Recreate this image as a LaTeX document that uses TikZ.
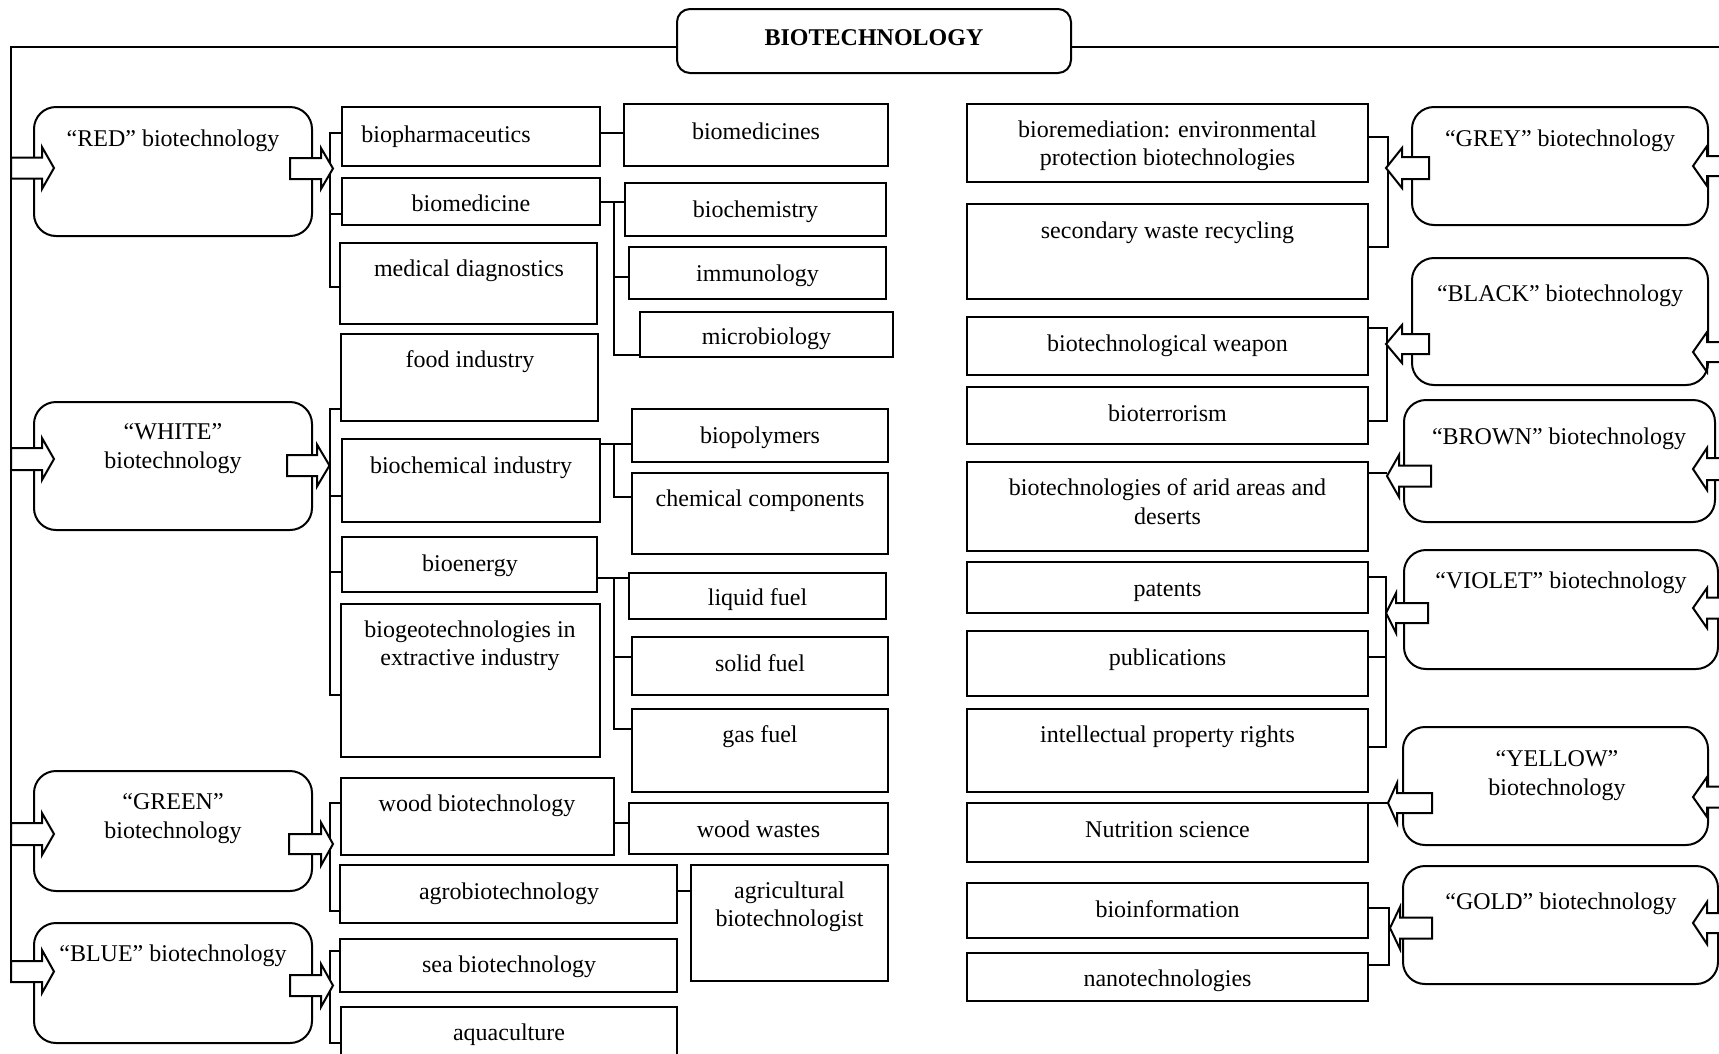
\documentclass[tikz,border=0pt]{standalone}
\usepackage{fontspec}
\setmainfont{Liberation Serif}
\newcommand\Bx[9][box]{%
  \node[#1,minimum width={(#5-#3)*1pt},minimum height={(#6-#4)*1pt}] (#2) at (#3,#4) {};
  \node[txt] (#2-t) at (#7,#8) {#9};}
\newcommand\ArR[6]{%
  \draw[blk] ({#1},{#4-#5}) -- ({#2},{#4-#5}) -- ({#2},{#4-#6}) -- ({#3},{#4}) --
    ({#2},{#4+#6}) -- ({#2},{#4+#5}) -- ({#1},{#4+#5}) -- cycle;}
\begin{document}
\begin{tikzpicture}[x=1pt,y=-1pt,
  box/.style={draw,line width=2pt,anchor=north west,inner sep=0pt,outer sep=0pt},
  rbox/.style={box,rounded corners=22pt},
  tbox/.style={box,rounded corners=13pt},
  txt/.style={font=\fontsize{24}{28.5}\selectfont,align=center,inner sep=0pt,yshift=-1.5pt},
  ln/.style={line width=2pt},
  blk/.style={draw,fill=white,line width=2pt}]
\useasboundingbox (0,0) rectangle (1719,1053);
\fill[white] (0,0) rectangle (1719,1053);
\clip (0,0) rectangle (1719,1053);

% top
\Bx[tbox]{bio}{677}{9}{1071}{73}{874}{38}{\strut\textbf{BIOTECHNOLOGY}}
% left rounded boxes
\Bx[rbox]{red}{34}{107}{312}{236}{173}{139}{\strut “RED” biotechnology}
\Bx[rbox]{white}{34}{402}{312}{530}{173}{447}{\strut “WHITE”\\\strut biotechnology}
\Bx[rbox]{green}{34}{771}{312}{891}{173}{817}{\strut “GREEN”\\\strut biotechnology}
\Bx[rbox]{blue}{34}{923}{312}{1043}{173}{954}{\strut “BLUE” biotechnology}
% right rounded boxes
\Bx[rbox]{grey}{1412}{107}{1708}{225}{1560}{139}{\strut “GREY” biotechnology}
\Bx[rbox]{black}{1412}{258}{1708}{385}{1560}{294}{\strut “BLACK” biotechnology}
\Bx[rbox]{brown}{1404}{400}{1715}{522}{1559}{437}{\strut “BROWN” biotechnology}
\Bx[rbox]{violet}{1404}{550}{1718}{669}{1561}{581}{\strut “VIOLET” biotechnology}
\Bx[rbox]{yellow}{1403}{727}{1708}{845}{1557}{774}{\strut “YELLOW”\\\strut biotechnology}
\Bx[rbox]{gold}{1403}{866}{1718}{984}{1561}{902}{\strut “GOLD” biotechnology}

% second column
\Bx{bioph}{342}{107}{600}{166}{446}{135}{\strut biopharmaceutics}
\Bx{biomed}{342}{178}{600}{225}{471}{204}{\strut biomedicine}
\Bx{meddiag}{340}{243}{597}{324}{469}{269}{\strut medical diagnostics}
\Bx{food}{341}{334}{598}{421}{470}{360}{\strut food industry}
\Bx{biochind}{342}{439}{600}{522}{471}{466}{\strut biochemical industry}
\Bx{bioen}{342}{537}{597}{592}{470}{564}{\strut bioenergy}
\Bx{biogeo}{341}{604}{600}{757}{470}{644.5}{\strut biogeotechnologies in\\\strut extractive industry}
\Bx{woodbio}{341}{778}{614}{855}{477}{804}{\strut wood biotechnology}
\Bx{agro}{340}{865}{677}{923}{509}{892}{\strut agrobiotechnology}
\Bx{sea}{340}{939}{677}{992}{509}{965}{\strut sea biotechnology}
\Bx{aqua}{341}{1007}{677}{1080}{509}{1033}{\strut aquaculture}

% third column
\Bx{biomeds}{624}{104}{888}{166}{756}{132}{\strut biomedicines}
\Bx{biochem}{625}{183}{886}{236}{755.5}{210}{\strut biochemistry}
\Bx{immun}{629}{247}{886}{299}{757.5}{274}{\strut immunology}
\Bx{micro}{640}{312}{893}{357}{766.5}{337}{\strut microbiology}
\Bx{biopoly}{632}{409}{888}{462}{760}{436}{\strut biopolymers}
\Bx{chemcomp}{632}{473}{888}{554}{760}{499}{\strut chemical components}
\Bx{liquid}{629}{573}{886}{619}{757.5}{598}{\strut liquid fuel}
\Bx{solid}{632}{637}{888}{695}{760}{664}{\strut solid fuel}
\Bx{gas}{632}{709}{888}{792}{760}{735}{\strut gas fuel}
\Bx{woodw}{629}{803}{888}{854}{758.5}{830}{\strut wood wastes}
\Bx{agrist}{691}{865}{888}{981}{789.5}{905.5}{\strut agricultural\\\strut biotechnologist}

% right column
\Bx{bioremed}{967}{104}{1368}{182}{1167.5}{144.5}{\strut bioremediation: environmental\\\strut protection biotechnologies}
\Bx{secwaste}{967}{204}{1368}{299}{1167.5}{231}{\strut secondary waste recycling}
\Bx{weapon}{967}{317}{1368}{375}{1167.5}{344}{\strut biotechnological weapon}
\Bx{bioterr}{967}{387}{1368}{444}{1167.5}{414}{\strut bioterrorism}
\Bx{arid}{967}{462}{1368}{551}{1167.5}{503}{\strut biotechnologies of arid areas and\\\strut deserts}
\Bx{patents}{967}{562}{1368}{613}{1167.5}{589}{\strut patents}
\Bx{public}{967}{631}{1368}{696}{1167.5}{658}{\strut publications}
\Bx{ipr}{967}{709}{1368}{792}{1167.5}{735}{\strut intellectual property rights}
\Bx{nutri}{967}{803}{1368}{862}{1167.5}{830}{\strut Nutrition science}
\Bx{bioinfo}{967}{883}{1368}{938}{1167.5}{910}{\strut bioinformation}
\Bx{nano}{967}{953}{1368}{1001}{1167.5}{979}{\strut nanotechnologies}

% frame lines
\coordinate (TL) at (11,47);
\coordinate (LB) at (11,982);
\coordinate (TR) at (1730,47);
\draw[ln] (bio.west |- TL) -- (TL) -- (LB);
\draw[ln] (bio.east |- TR) -- (TR);

% left brackets
\draw[ln] (bioph.west |- 0,133) -- (329.5,133) -- (329.5,287) -- (meddiag.west |- 0,287);
\draw[ln] (329.5,214) -- (biomed.west |- 0,214);
\draw[ln] (food.west |- 0,409) -- (329.5,409) -- (329.5,695) -- (biogeo.west |- 0,695);
\draw[ln] (329.5,496) -- (biochind.west |- 0,496);
\draw[ln] (329.5,572) -- (bioen.west |- 0,572);
\draw[ln] (woodbio.west |- 0,803) -- (329.5,803) -- (329.5,911) -- (agro.west |- 0,911);
\draw[ln] (sea.west |- 0,951) -- (329.5,951) -- (329.5,1043) -- (aqua.west |- 0,1043);

% middle connectors
\draw[ln] (bioph.east |- 0,133) -- (biomeds.west |- 0,133);
\draw[ln] (biomed.east |- 0,202) -- (biochem.west |- 0,202);
\draw[ln] (614,202) -- (614,355) -- (micro.west |- 0,355);
\draw[ln] (614,277) -- (immun.west |- 0,277);
\draw[ln] (biochind.east |- 0,444) -- (biopoly.west |- 0,444);
\draw[ln] (614,444) -- (614,497) -- (chemcomp.west |- 0,497);
\draw[ln] (bioen.east |- 0,578) -- (liquid.west |- 0,578);
\draw[ln] (614,578) -- (614,729) -- (gas.west |- 0,729);
\draw[ln] (614,657) -- (solid.west |- 0,657);
\draw[ln] (woodbio.east |- 0,823) -- (woodw.west |- 0,823);
\draw[ln] (agro.east |- 0,891) -- (agrist.west |- 0,891);

% right brackets
\draw[ln] (bioremed.east |- 0,137) -- (1388,137) -- (1388,247) -- (secwaste.east |- 0,247);
\draw[ln] (weapon.east |- 0,328) -- (1387,328) -- (1387,421) -- (bioterr.east |- 0,421);
\draw[ln] (arid.east |- 0,473) -- (1387,473);
\draw[ln] (patents.east |- 0,577) -- (1386,577) -- (1386,747) -- (ipr.east |- 0,747);
\draw[ln] (public.east |- 0,657) -- (1386,657);
\draw[ln] (nutri.east |- 0,803) -- (1388,803);
\draw[ln] (bioinfo.east |- 0,908) -- (1389,908) -- (1389,965) -- (nano.east |- 0,965);

% block arrows, left
\ArR{11}{42}{54}{168}{10.5}{21}
\ArR{11}{42}{54}{459}{11}{21}
\ArR{11}{42}{54}{834}{11}{21}
\ArR{11}{42}{54}{971.5}{10.5}{21.5}
\ArR{290}{321}{333}{168.5}{10.5}{20.5}
\ArR{287}{317}{329.5}{465.5}{10.5}{21}
\ArR{289}{321}{333}{844}{10}{21.5}
\ArR{290}{321}{333}{985.5}{10.5}{21.5}
% block arrows, right
\ArR{1429}{1402}{1386}{168}{11}{20}
\ArR{1429}{1402}{1386}{344}{10}{19}
\ArR{1431}{1399}{1387}{476}{10.5}{21}
\ArR{1428}{1396}{1386}{613}{10}{20}
\ArR{1432}{1397}{1388}{803}{10}{20}
\ArR{1432}{1400}{1390}{928}{10.5}{21}
\ArR{1735}{1707}{1693}{166}{10}{20}
\ArR{1735}{1707}{1693}{352}{10}{20}
\ArR{1735}{1707}{1693}{469}{11}{21}
\ArR{1735}{1707}{1693}{608}{10.5}{20}
\ArR{1735}{1707}{1693}{797}{10.5}{20}
\ArR{1735}{1707}{1693}{923}{10}{21}
\end{tikzpicture}
\end{document}
